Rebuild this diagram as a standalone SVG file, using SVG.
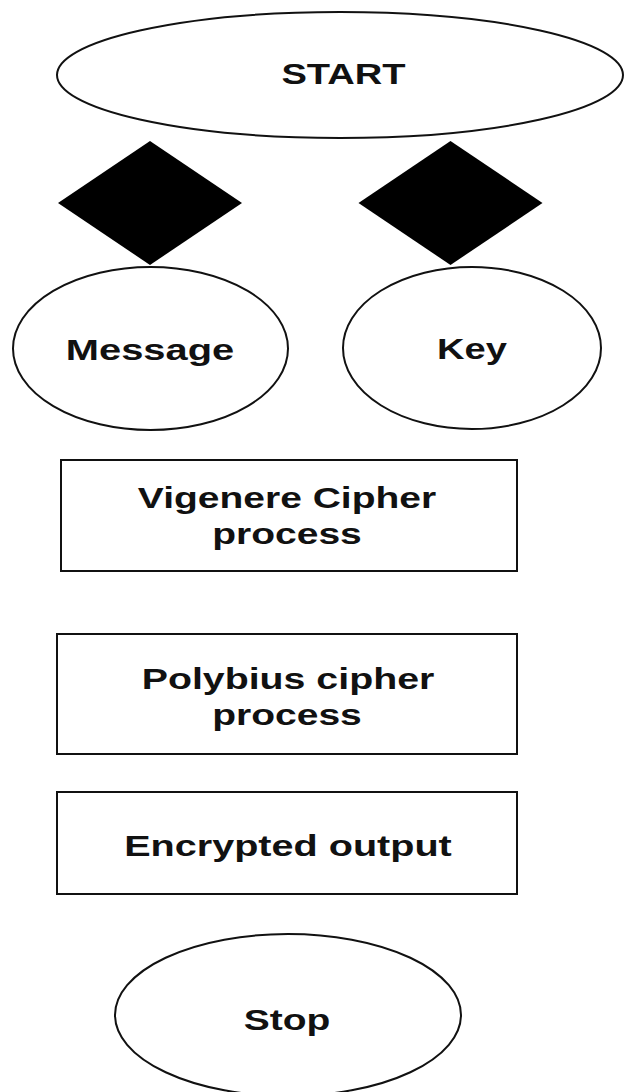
<svg xmlns="http://www.w3.org/2000/svg" width="624" height="1092" viewBox="0 0 624 1092">
  <style>
    .shape { fill: #ffffff; stroke: #111111; stroke-width: 2; }
    .diamond { fill: #000000; stroke: none; }
    .label { font-family: "Liberation Sans", Arial, Helvetica, sans-serif; font-weight: bold; font-size: 30px; fill: #111111; text-anchor: middle; }
  </style>
  <rect x="0" y="0" width="624" height="1092" fill="#ffffff"/>
  <g id="connectors"></g>
  <g id="start">
    <ellipse class="shape" cx="340" cy="75" rx="283" ry="63"/>
    <text class="label" transform="translate(343.5,84) scale(1.27,1)">START</text>
  </g>
  <g id="decision-left">
    <polygon class="diamond" points="150,141 242,203 150,265 58,203"/>
  </g>
  <g id="decision-right">
    <polygon class="diamond" points="450.5,141 542.5,203 450.5,265 358.5,203"/>
  </g>
  <g id="message">
    <ellipse class="shape" cx="150.5" cy="348.5" rx="137.5" ry="81.5"/>
    <text class="label" transform="translate(150,359.5) scale(1.33,1)">Message</text>
  </g>
  <g id="key">
    <ellipse class="shape" cx="472" cy="348" rx="129" ry="81"/>
    <text class="label" transform="translate(472,358.5) scale(1.27,1)">Key</text>
  </g>
  <g id="vigenere">
    <rect class="shape" x="61" y="460" width="456" height="111"/>
    <text class="label" transform="translate(287,507.5) scale(1.3,1)">Vigenere Cipher</text>
    <text class="label" transform="translate(287,543.5) scale(1.3,1)">process</text>
  </g>
  <g id="polybius">
    <rect class="shape" x="57" y="634" width="460" height="120"/>
    <text class="label" transform="translate(288,688.5) scale(1.31,1)">Polybius cipher</text>
    <text class="label" transform="translate(287,724.5) scale(1.3,1)">process</text>
  </g>
  <g id="output">
    <rect class="shape" x="57" y="792" width="460" height="102"/>
    <text class="label" transform="translate(288,855.5) scale(1.32,1)">Encrypted output</text>
  </g>
  <g id="stop">
    <ellipse class="shape" cx="288" cy="1015" rx="173" ry="81"/>
    <text class="label" transform="translate(287,1029.5) scale(1.3,1)">Stop</text>
  </g>
</svg>
